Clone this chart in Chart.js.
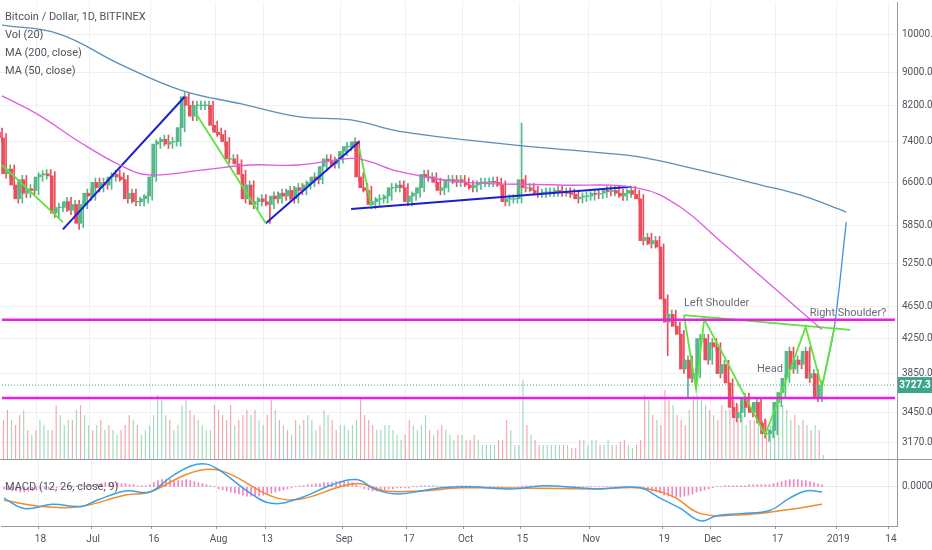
<!DOCTYPE html>
<html>
<head>
<meta charset="utf-8">
<script src="https://cdn.jsdelivr.net/npm/chart.js@4.4.1/dist/chart.umd.min.js"></script>
<style>
  body { margin: 0; background: #fff; width: 932px; height: 550px; overflow: hidden; font-family: Roboto, sans-serif; }
  .pane { position: absolute; left: 0; width: 932px; overflow: hidden; background: #fff; }
  #pricePane { top: 0; height: 459px; }
  #macdPane { top: 459px; height: 91px; border-top: 1px solid #9598a1; box-sizing: border-box; }
  .inner { position: absolute; left: 0; width: 932px; }
  #priceInner { top: -9px; height: 480px; }
  #macdInner { top: -11px; height: 102px; }
  .lbl { position: absolute; left: 5px; font-size: 11px; color: #50535e; }
</style>
</head>
<body>
<div class="pane" id="pricePane"><div class="inner" id="priceInner"><canvas id="priceChart"></canvas></div></div>
<div class="pane" id="macdPane"><div class="inner" id="macdInner"><canvas id="macdChart"></canvas></div></div>
<div class="lbl" style="top:10px">Bitcoin / Dollar, 1D, BITFINEX</div>
<div class="lbl" style="top:28px">Vol (20)</div>
<div class="lbl" style="top:46px">MA (200, close)</div>
<div class="lbl" style="top:64px">MA (50, close)</div>
<div class="lbl" style="top:480px">MACD (12, 26, close, 9)</div>
<script>
/* ---------- data ---------- */
const START = Date.UTC(2018, 5, 9);
const DAYS = 221;

const closeJun = [7480,6760,6850,6550,6300,6650,6400,6480,6450,6700,6740,6760,6720,6050,6150,6150,6250,6100,6200,5880,6200,6400];
const closeJul = [6350,6600,6500,6600,6550,6700,6750,6700,6650,6300,6400,6250,6250,6300,6350,6700,7350,7400,7450,7350,7400,7400,7700,8400,8200,7950,8200,8200,8200,8200,7750];
const closeAug = [7600,7550,7400,7050,7050,6950,6750,6300,6550,6200,6250,6300,6250,6200,6350,6300,6400,6350,6450,6300,6500,6450,6550,6600,6700,6650,6900,7050,7000,6950,7050];
const closeSep = [7200,7300,7300,7400,6700,6500,6450,6200,6250,6300,6300,6350,6500,6500,6550,6500,6250,6350,6400,6500,6750,6700,6700,6600,6450,6500,6650,6650,6600,6650];
const closeOct = [6600,6550,6500,6550,6600,6600,6600,6620,6600,6550,6250,6300,6300,6300,6650,6500,6500,6450,6400,6400,6420,6420,6420,6450,6420,6420,6400,6380,6300,6330,6350];
const closeNov = [6350,6400,6380,6400,6450,6430,6450,6400,6350,6400,6450,6380,6300,5600,5650,5550,5600,5500,4750,4450,4550,4400,4300,3900,4000,3800,3850,4250,4250,4000];
const closeDec = [4200,4150,3850,3950,3750,3500,3400,3450,3600,3500,3450,3550,3350,3250,3250,3280,3550,3650,3800,4100,3900,4000,3950,4100,3800,3850,3600,3727.3];
const firstOpen = 7600;
const wickHigh = { "2018-10-15": 7800, "2018-07-24": 8500, "2018-11-19": 5550, "2018-09-05": 7420, "2018-11-24": 4350 };
const wickLow = { "2018-06-28": 5780, "2018-08-14": 5880, "2018-11-25": 3600, "2018-12-15": 3180, "2018-11-20": 4050 };

const volJun = [40,50,40,35,45,50,30,25,30,40,35,30,30,55,45,35,40,40,50,55,45,35];
const volJul = [30,35,40,30,35,30,25,30,35,45,40,35,25,30,35,45,65,60,45,40,30,35,55,60,50,45,40,35,30,30,55];
const volAug = [50,45,40,55,35,40,45,50,45,50,40,35,45,60,50,40,35,30,25,40,35,40,45,40,30,35,50,45,40,30,35];
const volSep = [35,30,35,40,62,45,40,35,30,30,35,35,30,25,20,25,40,35,30,35,45,30,25,30,35,30,25,20,25,25];
const volOct = [20,20,25,20,15,15,15,15,20,20,40,30,15,15,80,35,25,20,15,15,15,15,15,15,15,15,12,12,20,20,15];
const volNov = [20,20,15,15,20,15,15,18,20,15,12,15,20,65,60,45,40,35,70,60,55,45,40,35,50,60,65,60,55,50];
const volDec = [45,40,55,50,50,60,55,45,35,40,40,45,40,40,35,45,60,55,50,40,45,35,40,35,30,35,30,5];

// moving averages, read at sample days [dayIndex, price]
const ma200 = [[0,10280],[14,10030],[29,9210],[44,8560],[59,8230],[73,7940],[86,7870],[98,7620],[123,7360],[145,7190],[157,7090],[172,6830],[187,6550],[197,6360],[208,6070]];
const ma50 = [[0,8420],[9,7980],[19,7400],[29,6930],[36,6740],[49,6830],[61,6930],[73,6930],[86,7060],[90,7010],[98,6800],[113,6610],[137,6550],[157,6490],[167,6160],[177,5590],[187,5060],[197,4580],[202,4360]];

// drawn pattern lines [dayIndex, price]
const greenLines = [
  [[0,6930],[15,5900]],
  [[48,7980],[65,5880]],
  [[88,7270],[91,6160]],
  [[168,4540],[171,3685],[173,4490],[179,3945],[188,3240],[194,3870],[198,4390],[202,3705],[205,4370]],
  [[168,4540],[209,4355]]
];
const blueLines = [
  [[15,5780],[45,8400]],
  [[65,5880],[88,7400]],
  [[86,6120],[155,6520]]
];
const projection = [[202,3705],[205,4370],[208,5900]];
const levelTop = 4480;
const levelBottom = 3595;
const lastPrice = 3727.3;

const priceTicks = [3170,3450,3850,4250,4650,5250,5850,6600,7400,8200,9000,10000];
const dateTicks = { "2018-06-18":"18","2018-07-01":"Jul","2018-07-16":"16","2018-08-01":"Aug","2018-08-13":"13",
  "2018-09-01":"Sep","2018-09-17":"17","2018-10-01":"Oct","2018-10-15":"15","2018-11-01":"Nov","2018-11-19":"19",
  "2018-12-01":"Dec","2018-12-17":"17","2019-01-01":"2019","2019-01-14":"14" };

// MACD in indicator units, sampled [dayIndex, value]
const macdLine = [[0,-11],[5,-21],[12,-17],[19,-19],[23,-13],[30,-4],[36,-5],[41,9],[46,20],[50,22],[54,14],[60,-4],[66,-16],[73,-11],[81,2],[87,7],[92,-3],[97,-7],[103,-4],[108,-1],[115,0],[126,-2],[133,1],[142,-1],[147,-2],[157,-1],[162,-11],[167,-21],[172,-33],[176,-28],[182,-26],[189,-23],[194,-11],[198,-4],[202,-5]];
const signalLine = [[0,-13],[9,-19],[19,-19],[30,-8],[36,-5],[45,12],[51,17],[56,12],[66,-9],[73,-12],[83,0],[88,3],[94,-4],[103,-4],[113,-1],[147,-2],[157,-1],[165,-9],[172,-26],[182,-27],[192,-23],[202,-17]];
const histJun = [-2,-3,-4,-4,-5,-5,-4,-4,-3,-3,-2,-2,-1,-1,0,0,0,0,1,1,1,2];
const histJul = [2,3,3,4,4,4,4,3,3,2,2,1,1,1,2,4,6,7,7,7,6,6,6,7,6,5,4,3,2,1,0];
const histAug = [-2,-3,-4,-5,-6,-7,-8,-9,-9,-9,-9,-8,-7,-6,-5,-4,-3,-2,-1,0,1,1,2,2,3,3,4,4,4,5,5];
const histSep = [5,5,4,2,0,-2,-3,-4,-4,-3,-3,-2,-2,-1,-1,-1,-1,0,0,1,1,1,1,0,0,0,0,0,1,1];
const histOct = [1,1,0,0,0,0,0,0,0,0,-1,-1,-1,0,1,1,1,0,0,0,0,0,0,0,0,0,0,0,0,0,0];
const histNov = [0,0,0,0,0,0,0,0,0,0,0,0,0,-2,-3,-4,-5,-6,-8,-9,-10,-10,-10,-9,-8,-7,-5,-4,-3,-2];
const histDec = [-1,0,0,1,1,1,1,1,1,2,2,2,2,2,2,3,4,5,6,7,7,7,6,6,5,4,3,2];

/* ---------- build ---------- */
const labels = [];
for (let i = 0; i < DAYS; i++) {
  labels.push(new Date(START + i * 86400000).toISOString().slice(0, 10));
}
const closes = [].concat(closeJun, closeJul, closeAug, closeSep, closeOct, closeNov, closeDec);
const volumes = [].concat(volJun, volJul, volAug, volSep, volOct, volNov, volDec);
const hist = [].concat(histJun, histJul, histAug, histSep, histOct, histNov, histDec);

const UP = "#53b987", DOWN = "#eb4d5c";
const bodies = [], wicks = [], candleColors = [], volColors = [];
closes.forEach((c, i) => {
  const o = i === 0 ? firstOpen : closes[i - 1];
  const d = labels[i];
  const hi = wickHigh[d] || Math.max(o, c) * 1.012;
  const lo = wickLow[d] || Math.min(o, c) * 0.988;
  bodies.push(o === c ? [o * 0.999, c * 1.001] : [o, c]);
  wicks.push([lo, hi]);
  candleColors.push(c >= o ? UP : DOWN);
  volColors.push(c >= o ? "rgba(83,185,135,0.55)" : "rgba(235,77,92,0.5)");
});

const pts = arr => arr.map(([i, v]) => ({ x: labels[i], y: v }));
const lineDs = (data, color, width, extra) => Object.assign({
  type: "line", data: pts(data), borderColor: color, borderWidth: width,
  pointRadius: 0, fill: false, tension: 0, yAxisID: "y", order: 0
}, extra || {});

const tickIdx = new Set(labels.map((d, i) => dateTicks[d] ? i : -1).filter(i => i >= 0));
const gridCol = ctx => tickIdx.has(ctx.index) ? "#eef0f4" : "transparent";

const fixAxisWidth = scale => { scale.width = 35; };

const annotations = {
  id: "annotations",
  afterDatasetsDraw(chart) {
    const { ctx } = chart;
    const x = chart.scales.x, y = chart.scales.y;
    ctx.save();
    ctx.font = "11px Roboto, sans-serif";
    ctx.fillStyle = "#6a6d78";
    ctx.textBaseline = "middle";
    ctx.fillText("Left Shoulder", x.getPixelForValue(168), y.getPixelForValue(4700));
    ctx.fillText("Head", x.getPixelForValue(186), y.getPixelForValue(3900));
    ctx.fillText("Right Shoulder?", x.getPixelForValue(199), y.getPixelForValue(4560));
    // last price tag
    const py = y.getPixelForValue(lastPrice);
    ctx.fillStyle = "#3da58a";
    ctx.fillRect(898, py - 8, 34, 16);
    ctx.fillStyle = "#fff";
    ctx.font = "bold 10px Roboto, sans-serif";
    ctx.textAlign = "center";
    ctx.fillText(lastPrice.toFixed(1), 915, py);
    ctx.restore();
  }
};

new Chart(document.getElementById("priceChart"), {
  type: "bar",
  data: {
    labels,
    datasets: [
      lineDs([[0, levelTop], [DAYS - 1, levelTop]], "#e91ee3", 2.5),
      lineDs([[0, levelBottom], [DAYS - 1, levelBottom]], "#e91ee3", 2.5),
      lineDs([[0, lastPrice], [DAYS - 1, lastPrice]], "#3da58a", 1, { borderDash: [1, 2] }),
      lineDs(ma200, "#5a8fb8", 1.3, { tension: 0.4 }),
      lineDs(ma50, "#e05ce0", 1.3, { tension: 0.4 }),
      ...greenLines.map(l => lineDs(l, "#5ee33a", 1.8)),
      ...blueLines.map(l => lineDs(l, "#1a1fd6", 2)),
      lineDs(projection, "#4a8ee0", 1.3, { tension: 0.3 }),
      { data: volumes, backgroundColor: volColors, yAxisID: "vol", barPercentage: 0.85, categoryPercentage: 1, order: 5 },
      { data: wicks, backgroundColor: candleColors, yAxisID: "y", barThickness: 1, order: 2 },
      { data: bodies, backgroundColor: candleColors, yAxisID: "y", barThickness: 3, order: 1 }
    ]
  },
  options: {
    responsive: true,
    maintainAspectRatio: false,
    animation: false,
    layout: { padding: 0 },
    plugins: { legend: { display: false }, tooltip: { enabled: false } },
    scales: {
      x: {
        grid: { color: gridCol, drawTicks: false },
        border: { display: false },
        ticks: { display: false, autoSkip: false }
      },
      y: {
        type: "logarithmic",
        position: "right",
        min: 3018,
        max: 10970,
        afterBuildTicks(scale) { scale.ticks = priceTicks.map(v => ({ value: v })); },
        afterFit: fixAxisWidth,
        grid: { color: "#eef0f4", drawTicks: false },
        border: { color: "#9598a1" },
        ticks: { color: "#50535e", font: { size: 10, family: "Roboto" }, padding: 5, callback: v => Number(v).toFixed(1) }
      },
      vol: { display: false, min: 0, max: 458 }
    }
  },
  plugins: [annotations]
});

new Chart(document.getElementById("macdChart"), {
  type: "bar",
  data: {
    labels,
    datasets: [
      { type: "line", data: pts(macdLine), borderColor: "#3ca0e8", borderWidth: 1.5, pointRadius: 0, tension: 0.4, order: 0 },
      { type: "line", data: pts(signalLine), borderColor: "#f58a2a", borderWidth: 1.5, pointRadius: 0, tension: 0.4, order: 1 },
      { data: hist, backgroundColor: "rgba(233,30,140,0.55)", barThickness: 1, order: 2 }
    ]
  },
  options: {
    responsive: true,
    maintainAspectRatio: false,
    animation: false,
    layout: { padding: { top: 1 } },
    plugins: { legend: { display: false }, tooltip: { enabled: false } },
    scales: {
      x: {
        afterFit(scale) { scale.height = 25; },
        grid: { color: gridCol, drawTicks: true, tickLength: 3, tickColor: ctx => tickIdx.has(ctx.index) ? "#9598a1" : "transparent" },
        border: { color: "#9598a1" },
        ticks: {
          autoSkip: false, maxRotation: 0, color: "#50535e", font: { size: 10, family: "Roboto" }, padding: 4,
          callback: (v, i) => dateTicks[labels[i]] || ""
        }
      },
      y: {
        position: "right",
        min: -38,
        max: 26,
        afterBuildTicks(scale) { scale.ticks = [{ value: 0 }]; },
        afterFit: fixAxisWidth,
        grid: { color: "#e6e8ee", drawTicks: false },
        border: { color: "#9598a1" },
        ticks: { color: "#50535e", font: { size: 10, family: "Roboto" }, padding: 5, callback: () => "0.0000" }
      }
    }
  }
});
</script>
</body>
</html>
